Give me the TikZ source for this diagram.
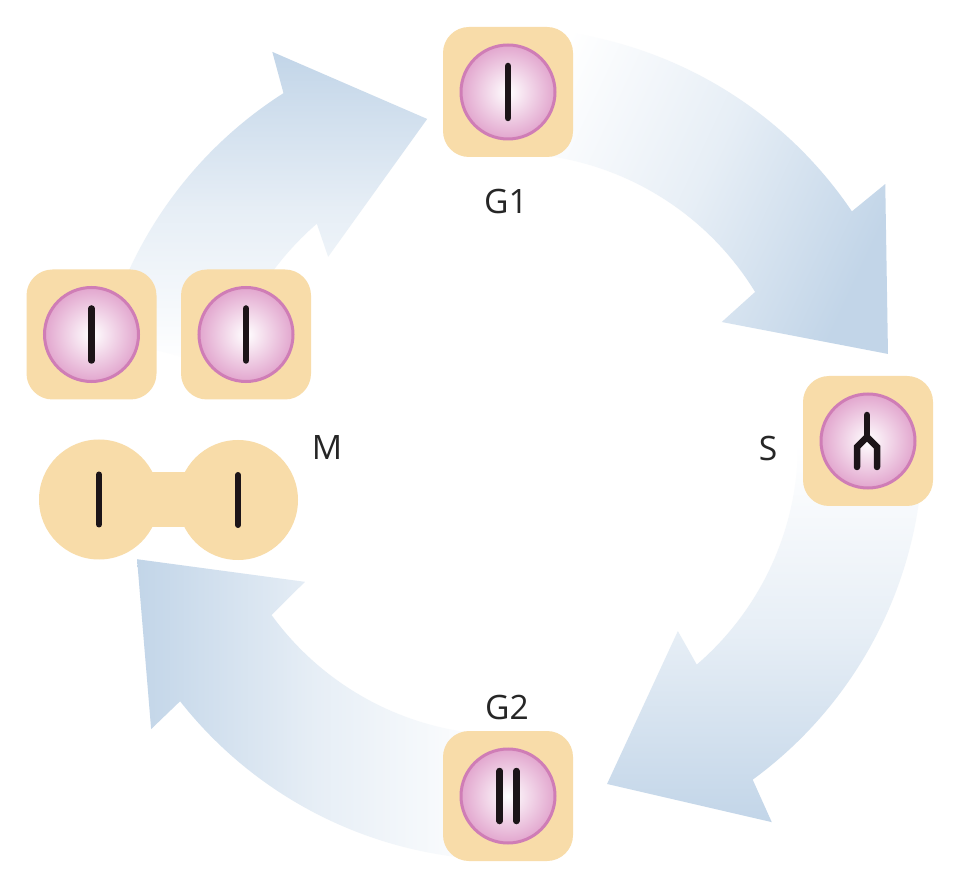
\documentclass[tikz,border=0pt]{standalone}
\usepackage{fontspec}
\setmainfont{Open Sans}
\definecolor{cellpeach}{HTML}{F8DCA9}
\definecolor{nucrim}{HTML}{CF7DB6}
\definecolor{nucpink}{HTML}{E2A6CE}
\definecolor{chromodark}{HTML}{1C1418}
\definecolor{arrowblue}{HTML}{C2D5E8}

\begin{document}
\begin{tikzpicture}[x=1pt,y=1pt,
    cellbox/.style={rectangle, fill=cellpeach, rounded corners=26pt, minimum size=130pt, inner sep=0pt},
    divcell/.style={circle, fill=cellpeach, minimum size=120pt, inner sep=0pt},
    nucleus/.style={circle, draw=nucrim, line width=3pt, inner color=white, outer color=nucpink, minimum size=94pt, inner sep=0pt},
    chromo/.style={draw=chromodark, line width=6.5pt, line cap=round},
    cyclearrow/.style={top color=white, bottom color=arrowblue, middle color=arrowblue!40!white},
    phase/.style={font=\fontsize{33.6}{40}\selectfont, text=black!85}]
    \fill[white] (0,0) rectangle (978,-890);
    \useasboundingbox (0,0) rectangle (978,-890);
    % the four arrows, round the centre of the cycle
    \begin{scope}[shift={(507,-444)}]
    \shade[cyclearrow, shading angle=65] (90:416) arc[start angle=90, end angle=34, radius=416] -- (34.5:459) -- (13.3:391.5) -- (29.6:247) -- (31.5:291) arc[start angle=31.5, end angle=90, radius=291] -- cycle; % G1 to S
    \shade[cyclearrow, shading angle=0] (0:416) arc[start angle=0, end angle=-53.8, radius=416] -- (-55:461.6) -- (-73.6:354.4) -- (-47.6:253.4) -- (-49.3:291) arc[start angle=-49.3, end angle=0, radius=291] -- cycle; % S to G2
    \shade[cyclearrow, shading angle=-90] (-92:416) arc[start angle=-92, end angle=-141.8, radius=416] -- (-141.3:456) -- (-162.7:387.5) -- (-145.7:244.6) -- (-144:291) arc[start angle=-144, end angle=-92, radius=291] -- cycle; % G2 to M
    \shade[cyclearrow, shading angle=180] (165:416) arc[start angle=165, end angle=122.5, radius=416] -- (120.9:457) -- (103.8:334.7) -- (133.7:258.9) -- (130.8:291) arc[start angle=130.8, end angle=165, radius=291] -- cycle; % M to G1
    \end{scope}
    % cells
    \node[cellbox] (g1) at (508,-92) {};
    \node[cellbox] (s) at (868,-441) {};
    \node[cellbox] (g2) at (508,-796) {};
    \node[cellbox] (ma) at (91.5,-334.5) {};
    \node[cellbox] (mb) at (246,-334.5) {};
    \foreach \n in {g1,s,g2,ma,mb} % edit here for the nuclei
    \node[nucleus] (\n-nuc) at (\n) {};
    \foreach \n in {g1,ma,mb}
    \draw[chromo] ([yshift=26]\n.center) -- ([yshift=-26]\n.center);
    \foreach \dx in {-8.3,8.3}
    \draw[chromo] ([shift={(\dx,25)}]g2.center) -- ([shift={(\dx,-25)}]g2.center);
    \draw[chromo, line join=miter] ([shift={(-11,-26)}]s.center) -- ++(0,20) -- ++(10,10) -- ++(10,-10) -- ++(0,-20);
    \draw[chromo] ([shift={(-1,4)}]s.center) -- ++(0,22);
    % dividing cell
    \node[divcell] (mc) at (99,-499.5) {};
    \node[divcell] (md) at (238,-500) {};
    \fill[cellpeach] ([yshift=27]mc.center) rectangle ([yshift=-27]md.center);
    \foreach \n in {mc,md}
    \draw[chromo, line width=6pt] ([yshift=25]\n.center) -- ([yshift=-25]\n.center);
    % phase labels
    \node[phase] (g1l) at (506,-202) {G1};
    \node[phase] (sl) at (768,-448) {S};
    \node[phase] (ml) at (327,-448) {M};
    \node[phase] (g2l) at (507,-707) {G2};
\end{tikzpicture}
\end{document}
